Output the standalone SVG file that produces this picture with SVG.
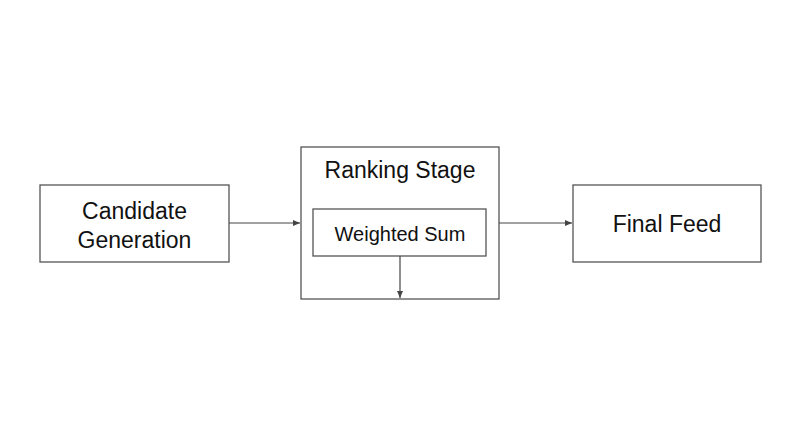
<svg xmlns="http://www.w3.org/2000/svg" width="800" height="447" viewBox="0 0 800 447">
<style>
rect{fill:#fff;stroke:#555;stroke-width:1.3}
text{font-family:"Liberation Sans",Arial,sans-serif;fill:#111;text-anchor:middle}
.c{stroke:#444;stroke-width:1.2;fill:none}
</style>
<defs><marker id="a" markerWidth="8" markerHeight="8" refX="7" refY="4" orient="auto" markerUnits="userSpaceOnUse"><path d="M0,1 L7,4 L0,7 Z" fill="#444"/></marker></defs>
<rect width="800" height="447" style="stroke:none"/>
<g id="candidate"><rect x="40" y="185" width="189" height="77"/><text x="134.5" y="219" font-size="23">Candidate</text><text x="134.5" y="248" font-size="23">Generation</text></g>
<g id="ranking"><rect x="301" y="147" width="198" height="152"/><text x="400" y="178" font-size="23">Ranking Stage</text></g>
<g id="weighted"><rect x="313" y="209" width="173" height="47"/><text x="400" y="241" font-size="20">Weighted Sum</text></g>
<g id="final"><rect x="573" y="185" width="188" height="77"/><text x="667" y="232" font-size="23">Final Feed</text></g>
<g id="connectors">
<line class="c" x1="229" y1="223" x2="300" y2="223" marker-end="url(#a)"/>
<line class="c" x1="499" y1="223" x2="572" y2="223" marker-end="url(#a)"/>
<line class="c" x1="400" y1="256" x2="400" y2="298" marker-end="url(#a)"/>
</g>
</svg>
